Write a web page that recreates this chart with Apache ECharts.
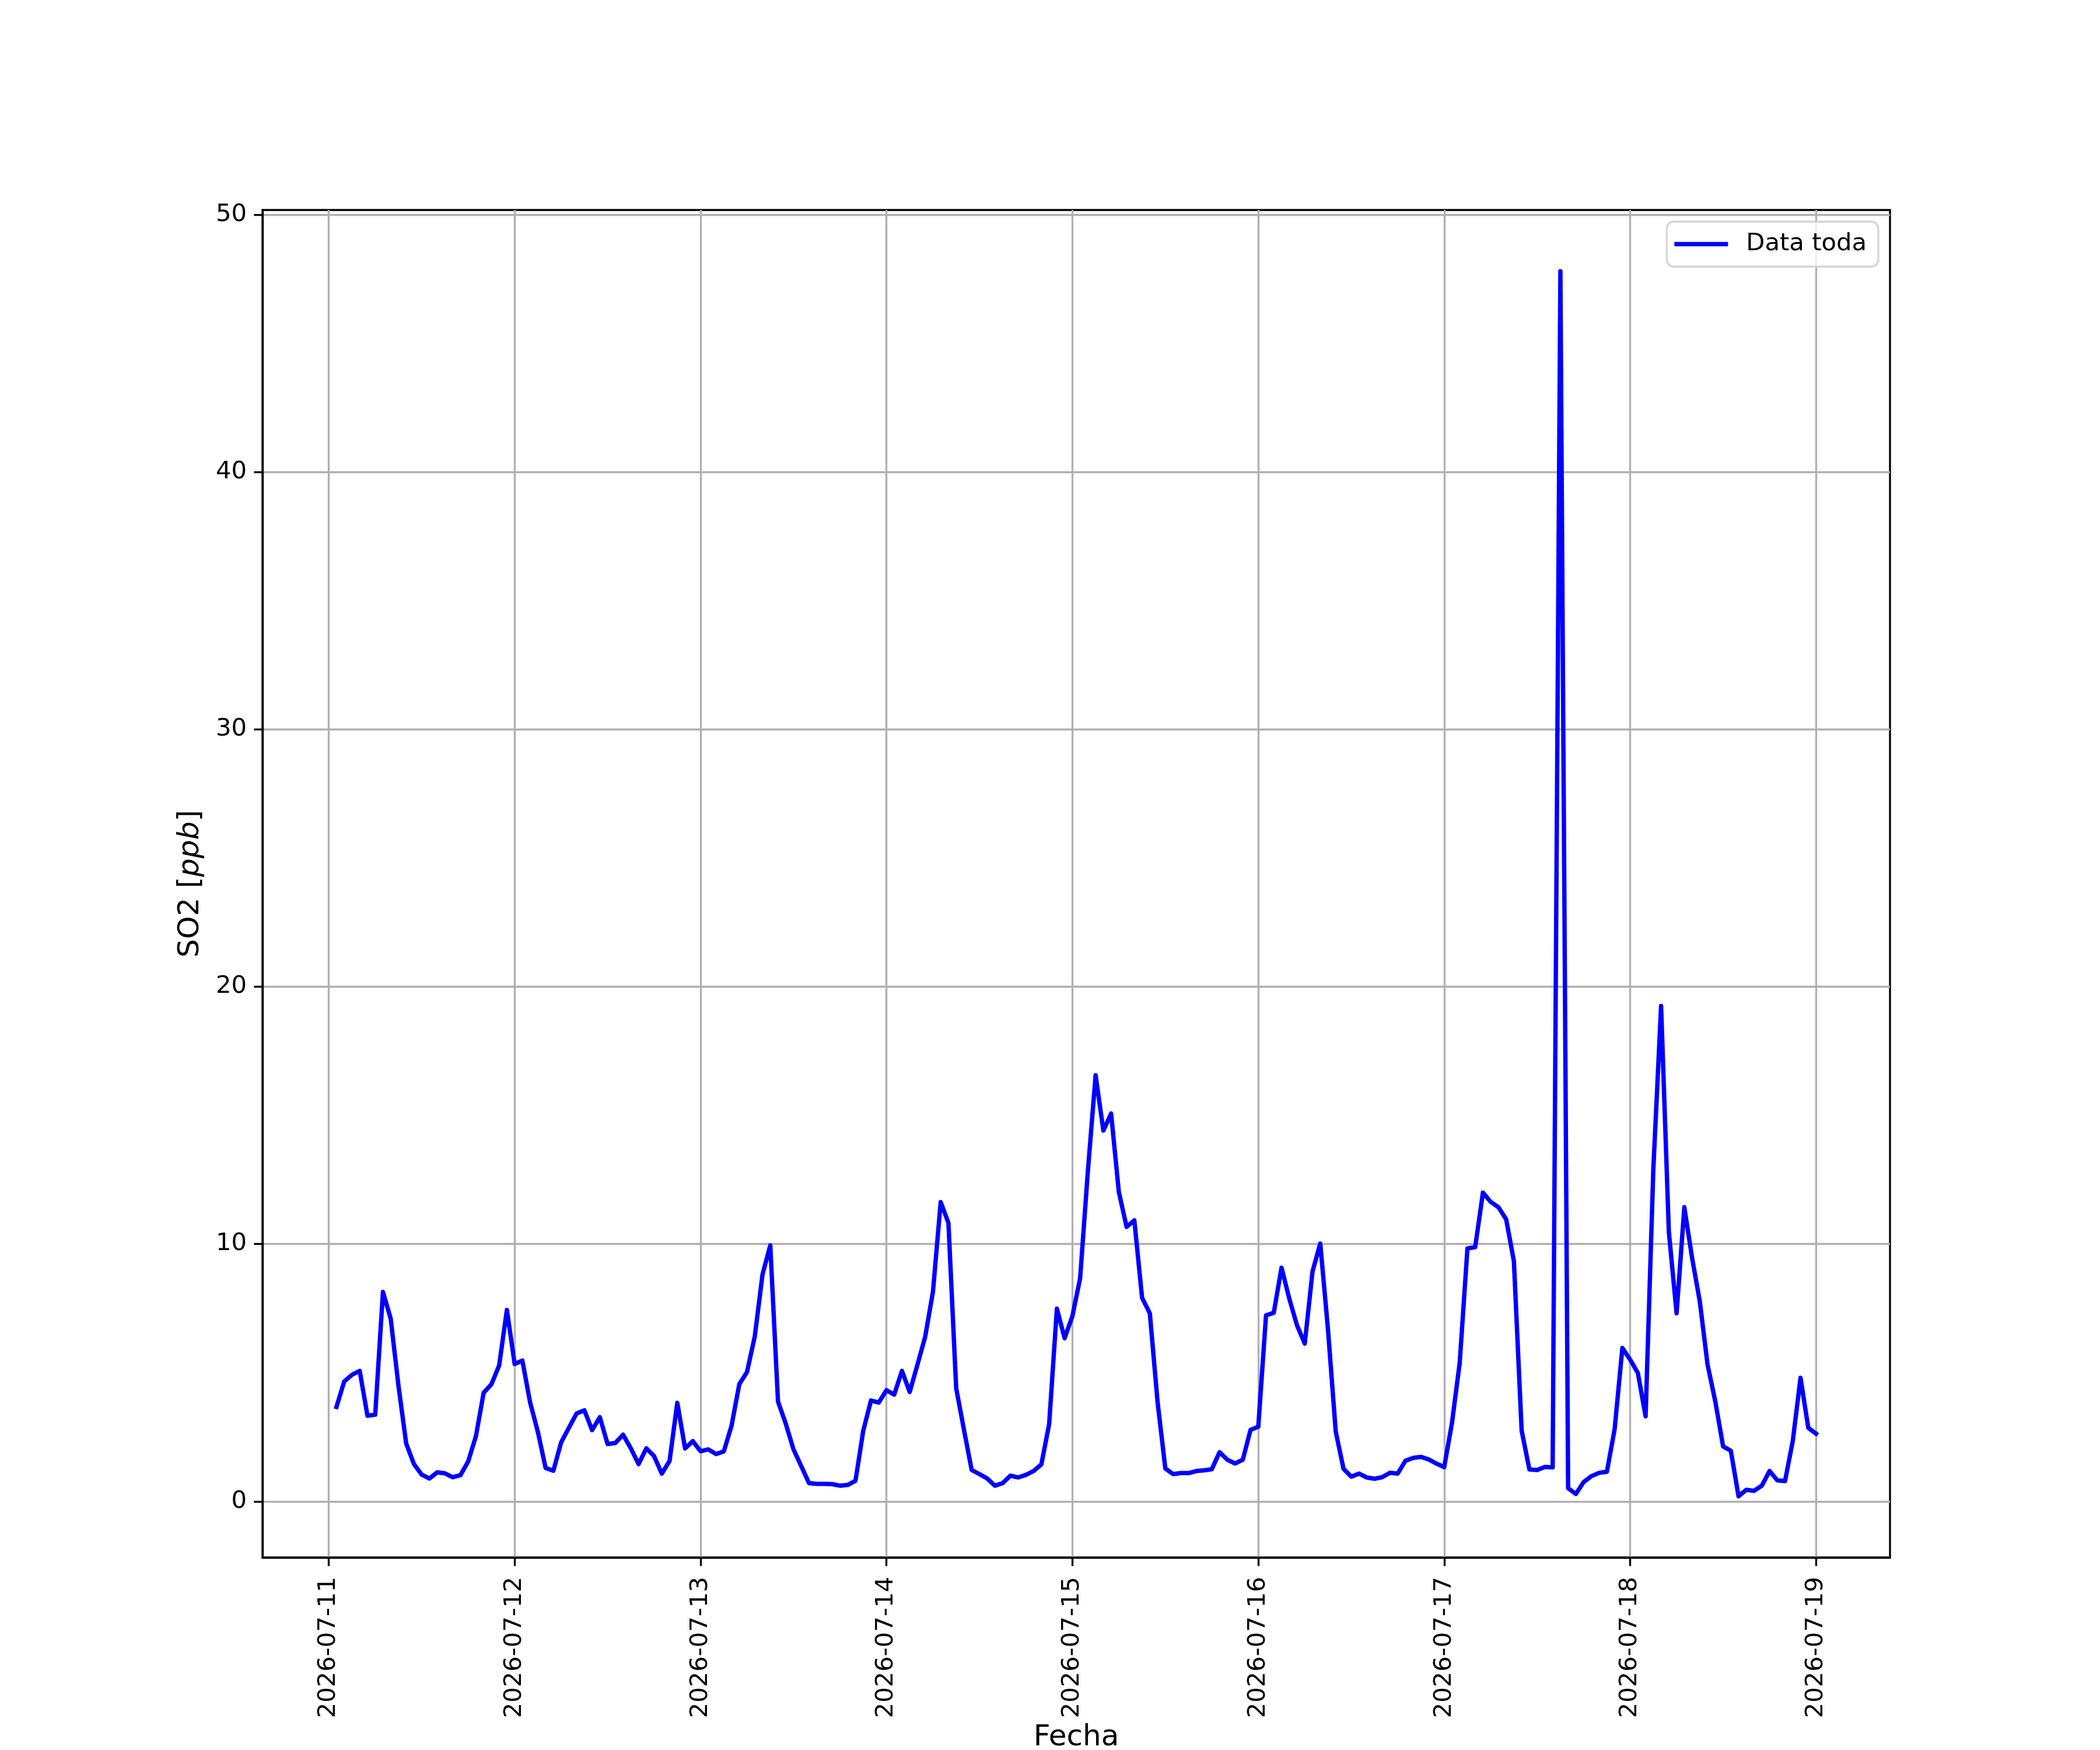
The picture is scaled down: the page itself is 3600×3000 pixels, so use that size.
<!DOCTYPE html>
<html>
<head>
<meta charset="utf-8">
<script src="https://cdn.jsdelivr.net/npm/echarts@6/dist/echarts.min.js"></script>
<style>
html,body{margin:0;padding:0;background:#ffffff;}
#chart{width:3600px;height:3000px;}
</style>
</head>
<body>
<div id="chart"></div>
<script>
// ---------- data ----------
const seriesName = 'Data toda';
const xAxisTitle = 'Fecha';
const startHour = 1;            // first sample: 2026-07-11 01:00, hourly samples
const xTickHours = [0, 24, 48, 72, 96, 120, 144, 168, 192];
const xTickLabels = ['2026-07-11', '2026-07-12', '2026-07-13', '2026-07-14', '2026-07-15',
                     '2026-07-16', '2026-07-17', '2026-07-18', '2026-07-19'];
const yTicks = [0, 10, 20, 30, 40, 50];

// hourly SO2 (ppb), each array: 01:00 .. 23:00 of the day, then 00:00 of next day
const so2_0711 = [3.67, 4.66, 4.92, 5.07, 3.33, 3.37, 8.14, 7.10, 4.50, 2.25, 1.45, 1.04,
                  0.89, 1.13, 1.09, 0.94, 1.02, 1.55, 2.53, 4.22, 4.55, 5.28, 7.44, 5.34];
const so2_0712 = [5.47, 3.84, 2.70, 1.30, 1.19, 2.29, 2.86, 3.42, 3.54, 2.77, 3.27, 2.23,
                  2.27, 2.59, 2.06, 1.45, 2.06, 1.76, 1.08, 1.57, 3.83, 2.06, 2.34, 1.95];
const so2_0713 = [2.02, 1.84, 1.94, 2.94, 4.55, 5.03, 6.41, 8.82, 9.95, 3.88, 3.02, 2.02,
                  1.37, 0.71, 0.68, 0.68, 0.67, 0.61, 0.64, 0.80, 2.74, 3.92, 3.84, 4.32];
const so2_0714 = [4.15, 5.07, 4.25, 5.31, 6.40, 8.14, 11.63, 10.82, 4.40, 2.79, 1.22, 1.06,
                  0.89, 0.61, 0.71, 1.00, 0.93, 1.03, 1.18, 1.44, 3.00, 7.49, 6.34, 7.19];
const so2_0715 = [8.67, 12.83, 16.56, 14.41, 15.07, 12.02, 10.67, 10.92, 7.91, 7.31, 3.86, 1.28,
                  1.06, 1.10, 1.10, 1.18, 1.21, 1.25, 1.91, 1.62, 1.47, 1.62, 2.78, 2.90];
const so2_0716 = [7.23, 7.33, 9.08, 7.88, 6.84, 6.13, 8.93, 10.02, 6.67, 2.71, 1.27, 0.96,
                  1.08, 0.93, 0.88, 0.94, 1.11, 1.08, 1.58, 1.69, 1.73, 1.63, 1.47, 1.33];
const so2_0717 = [3.04, 5.38, 9.83, 9.88, 12.00, 11.64, 11.43, 10.96, 9.33, 2.75, 1.24, 1.22,
                  1.34, 1.32, 47.80, 0.51, 0.29, 0.75, 0.98, 1.11, 1.15, 2.80, 5.96, 5.51];
const so2_0718 = [4.99, 3.31, 12.93, 19.25, 10.48, 7.31, 11.43, 9.46, 7.76, 5.31, 3.88, 2.14,
                  1.97, 0.20, 0.45, 0.41, 0.61, 1.18, 0.82, 0.79, 2.35, 4.80, 2.86, 2.63];

const values = [].concat(so2_0711, so2_0712, so2_0713, so2_0714,
                         so2_0715, so2_0716, so2_0717, so2_0718);
const seriesData = values.map((v, i) => [startHour + i, v]);

// axis limits with 5% margins (as the original plot)
const xFirst = startHour, xLast = startHour + values.length - 1;
const xPad = 0.05 * (xLast - xFirst);
const yMinData = Math.min.apply(null, values), yMaxData = Math.max.apply(null, values);
const yPad = 0.05 * (yMaxData - yMinData);

// ---------- chart ----------
const FONT = 'DejaVu Sans';
const chart = echarts.init(document.getElementById('chart'), null, {renderer: 'canvas', width: 3600, height: 3000});

chart.setOption({
  backgroundColor: '#ffffff',
  animation: false,
  grid: {
    left: 450, right: 360, top: 360, bottom: 330,
    containLabel: false,
    outerBoundsMode: 'none',
    show: true,
    borderColor: '#000000',
    borderWidth: 3.33,
    backgroundColor: '#ffffff'
  },
  legend: {
    right: 380, top: 380,
    padding: [17, 20, 17, 13],
    itemWidth: 92, itemHeight: 7.5,
    icon: 'rect',
    backgroundColor: 'rgba(255,255,255,0.8)',
    borderColor: '#d5d5d5',
    borderWidth: 3.3,
    borderRadius: 12,
    textStyle: {fontFamily: FONT, fontSize: 41.7, color: '#000000', lineHeight: 43, padding: [0, 0, 0, 26]},
    data: [{name: seriesName, itemStyle: {color: '#0000ff'}}]
  },
  xAxis: {
    type: 'value',
    min: xFirst - xPad,
    max: xLast + xPad,
    name: xAxisTitle,
    nameLocation: 'middle',
    nameGap: 284,
    nameTextStyle: {fontFamily: FONT, fontSize: 50, color: '#000000'},
    axisLine: {show: true, onZero: false, lineStyle: {color: '#000000', width: 3.33}},
    axisTick: {show: true, inside: false, length: 14.6, customValues: xTickHours,
               lineStyle: {color: '#000000', width: 3.33}},
    axisLabel: {
      show: true, rotate: 90, margin: 33, customValues: xTickHours,
      fontFamily: FONT, fontSize: 41.7, color: '#000000',
      formatter: function (v) {
        const k = xTickHours.indexOf(Math.round(v));
        return k >= 0 ? xTickLabels[k] : '';
      }
    },
    splitLine: {show: true, lineStyle: {color: '#b0b0b0', width: 3.33}}
  },
  yAxis: {
    type: 'value',
    min: yMinData - yPad,
    max: yMaxData + yPad,
    name: 'SO2 [{i|ppb}]',
    nameLocation: 'middle',
    nameRotate: 90,
    nameGap: 98,
    nameTextStyle: {
      fontFamily: FONT, fontSize: 50, color: '#000000',
      rich: {i: {fontFamily: FONT, fontSize: 50, fontStyle: 'italic', color: '#000000'}}
    },
    axisLine: {show: true, onZero: false, lineStyle: {color: '#000000', width: 3.33}},
    axisTick: {show: true, inside: false, length: 14.6, customValues: yTicks,
               lineStyle: {color: '#000000', width: 3.33}},
    axisLabel: {
      show: true, margin: 27, customValues: yTicks,
      fontFamily: FONT, fontSize: 41.7, color: '#000000',
      formatter: function (v) { return String(Math.round(v)); }
    },
    splitLine: {show: true, lineStyle: {color: '#b0b0b0', width: 3.33}}
  },
  series: [{
    name: seriesName,
    type: 'line',
    data: seriesData,
    showSymbol: false,
    symbol: 'none',
    smooth: false,
    clip: true,
    color: '#0000ff',
    lineStyle: {color: '#0000ff', width: 7.5, join: 'round', cap: 'square'},
    emphasis: {disabled: true}
  }]
});
</script>
</body>
</html>
